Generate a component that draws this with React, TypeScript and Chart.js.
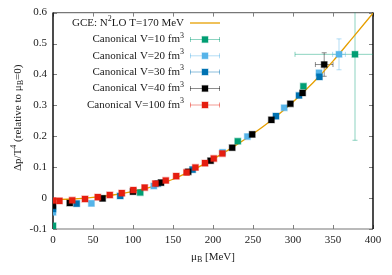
import React, { useEffect, useRef } from "react";
import { Chart, registerables } from "chart.js";

Chart.register(...registerables);

// ---------- axis ticks ----------
const xTicks = [0, 50, 100, 150, 200, 250, 300, 350, 400];
const xTickLabels = ["0", "50", "100", "150", "200", "250", "300", "350", "400"];
const yTicks = [-0.1, 0, 0.1, 0.2, 0.3, 0.4, 0.5, 0.6];
const yTickLabels = ["-0.1", "0", "0.1", "0.2", "0.3", "0.4", "0.5", "0.6"];

// ---------- GCE N2LO curve ----------
const gceMu = [0, 25, 50, 75, 100, 125, 150, 175, 200, 225, 250, 275, 300, 325, 350, 375, 400];
const gceDp = [-0.005, -0.003, 0.002, 0.01, 0.022, 0.038, 0.061, 0.091, 0.126, 0.165, 0.208, 0.256, 0.311, 0.373, 0.443, 0.52, 0.598];

// ---------- Canonical V=10 fm^3 ----------
const v10Mu = [0, 109, 231, 313, 377.5];
const v10Dp = [-0.09, 0.018, 0.184, 0.362, 0.465];
const v10XErr = [0, 0, 0, 0, 75];
const v10YErr = [0, 0, 0, 0, 0.278];

// ---------- Canonical V=20 fm^3 ----------
const v20Mu = [0, 48, 126, 212, 243, 289, 332.5, 357.5];
const v20Dp = [-0.046, -0.017, 0.039, 0.148, 0.199, 0.292, 0.405, 0.465];
const v20XErr = [0, 0, 0, 0, 0, 0, 0, 8];
const v20YErr = [0, 0, 0, 0, 0, 0, 0, 0.05];

// ---------- Canonical V=30 fm^3 ----------
const v30Mu = [0, 29.6, 84, 131, 174.5, 278.7, 307.5, 333];
const v30Dp = [-0.035, -0.018, 0.007, 0.047, 0.092, 0.265, 0.332, 0.392];
const v30XErr = [0, 0, 0, 0, 0, 0, 0, 0];
const v30YErr = [0, 0, 0, 0, 0, 0, 0, 0];

// ---------- Canonical V=40 fm^3 ----------
const v40Mu = [0, 21, 62, 100, 135, 169, 197, 224, 249, 273, 296.7, 312, 339];
const v40Dp = [-0.025, -0.016, -0.001, 0.021, 0.05, 0.085, 0.121, 0.163, 0.206, 0.253, 0.305, 0.34, 0.432];
const v40XErr = [0, 0, 0, 0, 0, 0, 0, 0, 0, 0, 0, 0, 11];
const v40YErr = [0, 0, 0, 0, 0, 0, 0, 0, 0, 0, 0, 0, 0.038];

// ---------- Canonical V=100 fm^3 ----------
const v100Mu = [0, 8, 24, 40, 56, 71, 86, 100.4, 114.6, 128, 141, 154, 167, 178, 190, 201, 211.7];
const v100Dp = [-0.008, -0.009, -0.007, -0.003, 0.003, 0.01, 0.016, 0.026, 0.034, 0.047, 0.057, 0.071, 0.083, 0.099, 0.113, 0.128, 0.144];
const v100XErr = v100Mu.map(() => 0);
const v100YErr = v100Mu.map(() => 0);

const FONT = "'Liberation Serif', 'Times New Roman', serif";

type Part = { t: string; s: number; dy: number };

function drawRich(ctx: CanvasRenderingContext2D, parts: Part[], x: number, y: number, align: "left" | "center" | "right") {
  let total = 0;
  const widths = parts.map((p) => {
    ctx.font = `${p.s}px ${FONT}`;
    const w = ctx.measureText(p.t).width;
    total += w;
    return w;
  });
  let cx = align === "left" ? x : align === "center" ? x - total / 2 : x - total;
  ctx.textAlign = "left";
  ctx.textBaseline = "middle";
  parts.forEach((p, i) => {
    ctx.font = `${p.s}px ${FONT}`;
    ctx.fillText(p.t, cx, y + p.dy);
    cx += widths[i];
  });
}

const series = [
  { label: "Canonical V=10 fm", mu: v10Mu, dp: v10Dp, xe: v10XErr, ye: v10YErr, color: "#009E73", err: "rgba(0,158,115,0.45)", halo: "rgba(0,158,115,0.35)" },
  { label: "Canonical V=20 fm", mu: v20Mu, dp: v20Dp, xe: v20XErr, ye: v20YErr, color: "#56B4E9", err: "rgba(86,180,233,0.45)", halo: "rgba(86,180,233,0.35)" },
  { label: "Canonical V=30 fm", mu: v30Mu, dp: v30Dp, xe: v30XErr, ye: v30YErr, color: "#0072B2", err: "rgba(0,114,178,0.45)", halo: "rgba(0,114,178,0.35)" },
  { label: "Canonical V=40 fm", mu: v40Mu, dp: v40Dp, xe: v40XErr, ye: v40YErr, color: "#000000", err: "rgba(0,0,0,0.45)", halo: "rgba(0,0,0,0.3)" },
  { label: "Canonical V=100 fm", mu: v100Mu, dp: v100Dp, xe: v100XErr, ye: v100YErr, color: "#E51E10", err: "rgba(229,30,16,0.45)", halo: "rgba(229,30,16,0.35)" },
];

const framePlugin = {
  id: "frameAndErrors",
  beforeDatasetsDraw(chart: any) {
    const ctx: CanvasRenderingContext2D = chart.ctx;
    const a = chart.chartArea;
    const xs = chart.scales.x;
    const ys = chart.scales.y;
    ctx.save();
    // inward ticks
    ctx.strokeStyle = "#808080";
    ctx.lineWidth = 1;
    const tl = 4;
    ctx.beginPath();
    xTicks.forEach((v) => {
      const px = Math.round(xs.getPixelForValue(v)) + 0.5;
      ctx.moveTo(px, a.bottom);
      ctx.lineTo(px, a.bottom - tl);
      ctx.moveTo(px, a.top);
      ctx.lineTo(px, a.top + tl);
    });
    yTicks.forEach((v) => {
      const py = Math.round(ys.getPixelForValue(v)) + 0.5;
      ctx.moveTo(a.left, py);
      ctx.lineTo(a.left + tl, py);
      ctx.moveTo(a.right, py);
      ctx.lineTo(a.right - tl, py);
    });
    ctx.stroke();
    // top / bottom border (gray)
    ctx.strokeStyle = "#777777";
    ctx.lineWidth = 1.2;
    ctx.beginPath();
    ctx.moveTo(a.left, a.top);
    ctx.lineTo(a.right, a.top);
    ctx.moveTo(a.left, a.bottom);
    ctx.lineTo(a.right, a.bottom);
    ctx.stroke();
    // left / right border (black)
    ctx.strokeStyle = "#000000";
    ctx.lineWidth = 1.4;
    ctx.beginPath();
    ctx.moveTo(a.left, a.top);
    ctx.lineTo(a.left, a.bottom);
    ctx.moveTo(a.right, a.top);
    ctx.lineTo(a.right, a.bottom);
    ctx.stroke();

    // error bars
    ctx.beginPath();
    ctx.rect(a.left, a.top, a.right - a.left, a.bottom - a.top);
    ctx.clip();
    ctx.lineWidth = 1;
    series.forEach((s) => {
      ctx.strokeStyle = s.err;
      s.mu.forEach((m, i) => {
        const xe = s.xe[i];
        const ye = s.ye[i];
        const px = xs.getPixelForValue(m);
        const py = ys.getPixelForValue(s.dp[i]);
        ctx.beginPath();
        if (xe > 0) {
          const x1 = xs.getPixelForValue(m - xe);
          const x2 = xs.getPixelForValue(m + xe);
          ctx.moveTo(x1, py);
          ctx.lineTo(x2, py);
          ctx.moveTo(x1, py - 2.5);
          ctx.lineTo(x1, py + 2.5);
          ctx.moveTo(x2, py - 2.5);
          ctx.lineTo(x2, py + 2.5);
        }
        if (ye > 0) {
          const y1 = ys.getPixelForValue(s.dp[i] - ye);
          const y2 = ys.getPixelForValue(s.dp[i] + ye);
          ctx.moveTo(px, y1);
          ctx.lineTo(px, y2);
          ctx.moveTo(px - 2.5, y1);
          ctx.lineTo(px + 2.5, y1);
          ctx.moveTo(px - 2.5, y2);
          ctx.lineTo(px + 2.5, y2);
        }
        ctx.stroke();
      });
    });
    ctx.restore();
  },
  afterDatasetsDraw(chart: any) {
    const ctx: CanvasRenderingContext2D = chart.ctx;
    ctx.save();
    const textRight = 184;
    const x1 = 190;
    const x2 = 220;
    const xm = 205;
    const rows = [23, 39.5, 55.8, 72, 88.5, 105];
    ctx.fillStyle = "#1a1a1a";
    // GCE row
    drawRich(
      ctx,
      [
        { t: "GCE: N", s: 11, dy: 0 },
        { t: "2", s: 8, dy: -4 },
        { t: "LO T=170 MeV", s: 11, dy: 0 },
      ],
      textRight,
      rows[0],
      "right"
    );
    ctx.strokeStyle = "#E69F00";
    ctx.lineWidth = 1.3;
    ctx.beginPath();
    ctx.moveTo(x1, rows[0]);
    ctx.lineTo(x2, rows[0]);
    ctx.stroke();
    series.forEach((s, i) => {
      const y = rows[i + 1];
      ctx.fillStyle = "#1a1a1a";
      drawRich(
        ctx,
        [
          { t: s.label, s: 11, dy: 0 },
          { t: "3", s: 8, dy: -4 },
        ],
        textRight,
        y,
        "right"
      );
      ctx.strokeStyle = s.err;
      ctx.lineWidth = 1;
      ctx.beginPath();
      ctx.moveTo(x1, y);
      ctx.lineTo(x2, y);
      ctx.moveTo(x1 + 0.5, y - 2.5);
      ctx.lineTo(x1 + 0.5, y + 2.5);
      ctx.moveTo(x2 - 0.5, y - 2.5);
      ctx.lineTo(x2 - 0.5, y + 2.5);
      ctx.stroke();
      ctx.fillStyle = s.color;
      ctx.strokeStyle = s.halo;
      ctx.lineWidth = 1.2;
      ctx.fillRect(xm - 3, y - 3, 6, 6);
      ctx.strokeRect(xm - 3, y - 3, 6, 6);
    });
    ctx.restore();
  },
  afterDraw(chart: any) {
    const ctx: CanvasRenderingContext2D = chart.ctx;
    const a = chart.chartArea;
    ctx.save();
    ctx.fillStyle = "#1a1a1a";
    // x title
    drawRich(
      ctx,
      [
        { t: "μ", s: 11, dy: 0 },
        { t: "B", s: 8, dy: 3 },
        { t: " [MeV]", s: 11, dy: 0 },
      ],
      (a.left + a.right) / 2,
      257,
      "center"
    );
    // y title
    ctx.translate(18, (a.top + a.bottom) / 2 - 3);
    ctx.rotate(-Math.PI / 2);
    drawRich(
      ctx,
      [
        { t: "Δp/T", s: 11, dy: 0 },
        { t: "4", s: 8, dy: -4 },
        { t: " (relative to μ", s: 11, dy: 0 },
        { t: "B", s: 8, dy: 3 },
        { t: "=0)", s: 11, dy: 0 },
      ],
      0,
      0,
      "center"
    );
    ctx.restore();
  },
};

export default function App() {
  const ref = useRef<HTMLCanvasElement | null>(null);
  useEffect(() => {
    if (!ref.current) return;
    const datasets: any[] = [
      {
        type: "line",
        label: "GCE: N2LO T=170 MeV",
        data: gceMu.map((x, i) => ({ x, y: gceDp[i] })),
        borderColor: "#E69F00",
        borderWidth: 1.3,
        pointRadius: 0,
        showLine: true,
        fill: false,
        cubicInterpolationMode: "monotone",
        order: 10,
      },
      ...series.map((s, k) => ({
        type: "scatter",
        label: s.label + "3",
        data: s.mu.map((x, i) => ({ x, y: s.dp[i] })),
        backgroundColor: s.color,
        borderColor: s.halo,
        borderWidth: 1.2,
        pointStyle: "rect",
        pointRadius: 4.3,
        order: 5 - k,
      })),
    ];
    const chart = new Chart(ref.current, {
      type: "scatter",
      data: { datasets },
      options: {
        animation: false,
        responsive: false,
        maintainAspectRatio: false,
        devicePixelRatio: 1,
        layout: { padding: { top: 11, right: 19, bottom: 0, left: 0 } },
        plugins: { legend: { display: false }, tooltip: { enabled: false }, title: { display: false } },
        scales: {
          x: {
            type: "linear",
            min: 0,
            max: 400,
            grid: { display: false, drawTicks: false },
            border: { display: false },
            afterBuildTicks: (s: any) => {
              s.ticks = xTicks.map((v) => ({ value: v }));
            },
            afterFit: (s: any) => {
              s.height = 46;
            },
            ticks: {
              padding: 5,
              maxRotation: 0,
              autoSkip: false,
              color: "#1a1a1a",
              font: { family: FONT, size: 11 },
              callback: (v: any) => {
                const i = xTicks.indexOf(Number(v));
                return i >= 0 ? xTickLabels[i] : "";
              },
            },
          },
          y: {
            type: "linear",
            min: -0.1,
            max: 0.6,
            grid: { display: false, drawTicks: false },
            border: { display: false },
            afterBuildTicks: (s: any) => {
              s.ticks = yTicks.map((v) => ({ value: v }));
            },
            afterFit: (s: any) => {
              s.width = 53;
            },
            ticks: {
              padding: 6,
              autoSkip: false,
              color: "#1a1a1a",
              font: { family: FONT, size: 11 },
              callback: (v: any) => {
                const i = yTicks.findIndex((t) => Math.abs(t - Number(v)) < 1e-9);
                return i >= 0 ? yTickLabels[i] : "";
              },
            },
          },
        },
      },
      plugins: [framePlugin],
    } as any);
    return () => chart.destroy();
  }, []);
  return (
    <div style={{ position: "absolute", left: 0, top: 0, width: 392, height: 275, background: "#fff" }}>
      <canvas ref={ref} width={392} height={275} style={{ display: "block" }} />
    </div>
  );
}
